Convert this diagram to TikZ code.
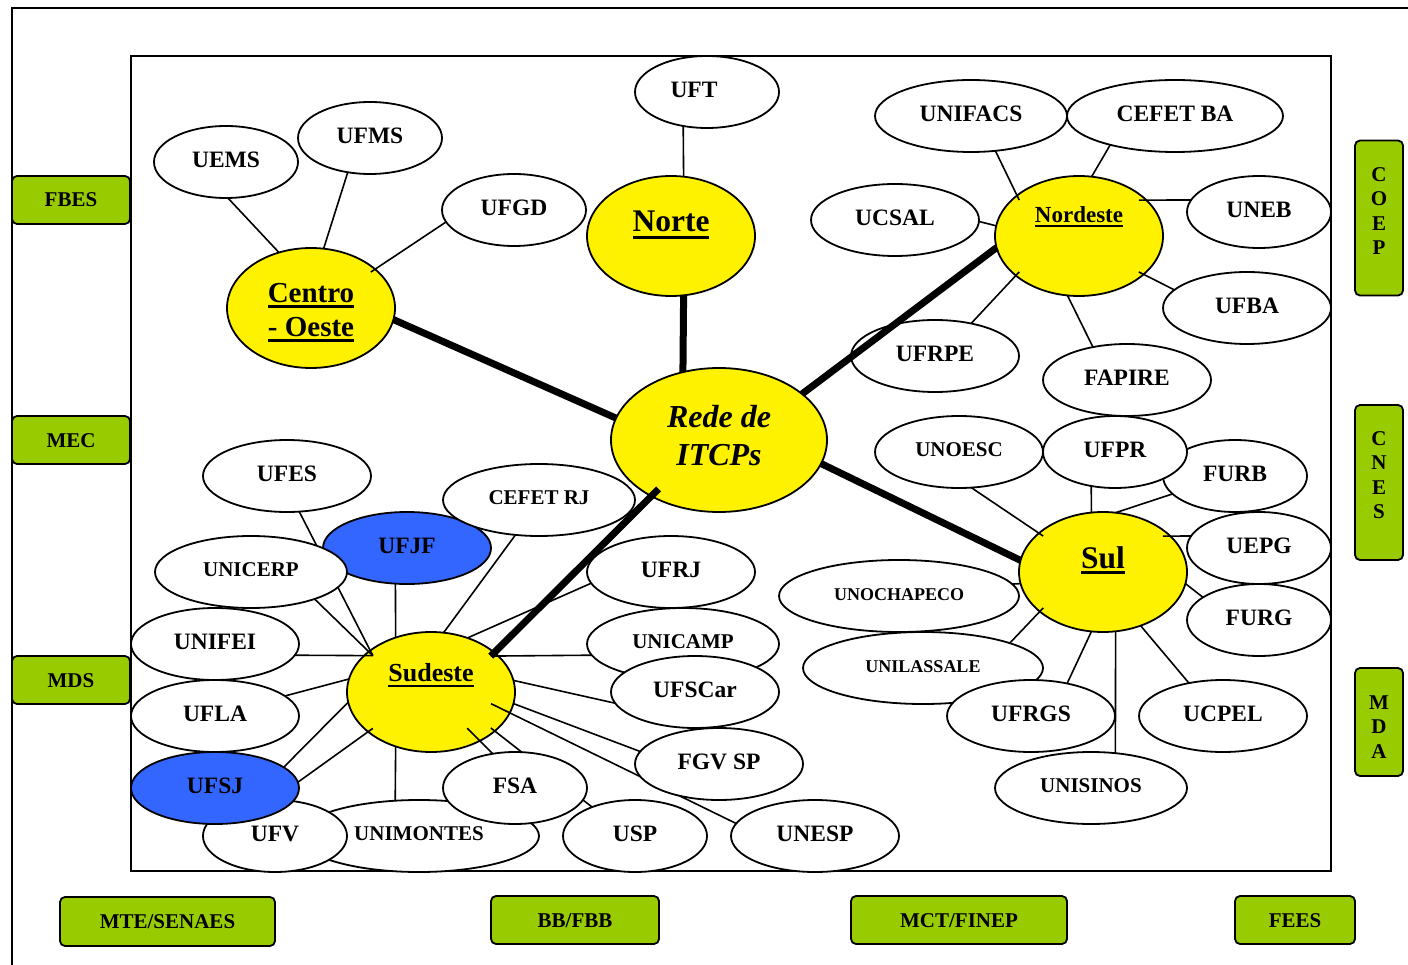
\documentclass[tikz,border=0pt]{standalone}
\usepackage{fontspec}
\setmainfont{Liberation Serif}
\usetikzlibrary{shapes.geometric,calc}
\pgfdeclarelayer{bgA}
\pgfdeclarelayer{bgB}
\pgfsetlayers{bgA,bgB,main}
\definecolor{gr}{HTML}{99CC00}
\definecolor{bl}{HTML}{3366FF}
\newcommand{\ulx}[3]{\setbox0=\hbox{#3}\rlap{\copy0}\rule[-#1]{\wd0}{#2}}
\tikzset{
 ell/.style={ellipse, draw, line width=1.8pt, fill=white, inner sep=0pt, outer sep=0pt,
   font=\bfseries\fontsize{23.5}{28}\selectfont, text height=15.5pt, text depth=5pt},
 ellb/.style={ell, font=\bfseries\fontsize{21}{25}\selectfont, text height=14pt, text depth=4.5pt},
 ellc/.style={ell, font=\bfseries\fontsize{18}{22}\selectfont, text height=12pt, text depth=4pt},
 blue/.style={fill=bl},
 region/.style={ellipse, draw, line width=1.8pt, fill=yellow, inner sep=0pt, outer sep=0pt,
   minimum width=168pt, minimum height=120pt},
 gbox/.style={rectangle, rounded corners=5pt, draw, line width=1.8pt, fill=gr, inner sep=0pt,
   font=\bfseries\fontsize{21}{24.5}\selectfont, text height=14pt, text depth=0pt},
 conn/.style={line width=1.6pt},
 heavy/.style={line width=7pt},
 frame/.style={line width=2pt},
}
\begin{document}
\begin{tikzpicture}[x=1pt,y=-1pt]
\useasboundingbox (0,0) rectangle (1408,965);
\begin{pgfonlayer}{bgA}
\draw[frame] (12,965) -- (12,8) -- (1408,8);
\draw[frame] (131,56) rectangle (1331,871);
\node[region, text height=22pt, text depth=0pt, font=\bfseries\fontsize{29}{34}\selectfont] (CO) at (311,308)
  {\begin{tabular}{@{}c@{}}\ulx{5pt}{2.5pt}{Centro}\\\ulx{5pt}{2.5pt}{- Oeste}\end{tabular}};
\node[region, text height=0pt, text depth=8.6pt, font=\bfseries\fontsize{31.5}{38}\selectfont] (Norte) at (671,236) {\ulx{7pt}{3pt}{Norte}};
\node[region, minimum width=216pt, minimum height=144pt, text height=40pt, text depth=30pt, font=\bfseries\itshape\fontsize{32}{38}\selectfont] (Rede) at (719,440)
  {\begin{tabular}{@{}c@{}}Rede de\\ITCPs\end{tabular}};
\node[region, text height=0pt, text depth=26.6pt, font=\bfseries\fontsize{23}{28}\selectfont] (NE) at (1079,236) {\ulx{4.5pt}{2pt}{Nordeste}};
\node[region, text height=0pt, text depth=8pt, font=\bfseries\fontsize{31.5}{38}\selectfont] (Sul) at (1103,572) {\ulx{6pt}{3pt}{Sul}};
\node[region, text height=0pt, text depth=20.6pt, font=\bfseries\fontsize{26}{31}\selectfont] (Sud) at (431,692) {\ulx{5.5pt}{2.5pt}{Sudeste}};
\end{pgfonlayer}

% Centro-Oeste / Norte
\node[ell, minimum width=144pt, minimum height=72pt] (UEMS) at (226,162) {UEMS};
\node[ell, minimum width=144pt, minimum height=72pt] (UFMS) at (370,138) {UFMS};
\node[ell, minimum width=144pt, minimum height=72pt] (UFGD) at (514,210) {UFGD};
\node[ell, minimum width=144pt, minimum height=72pt] (UFT) at (707,92) {UFT\hspace*{26pt}};
% Nordeste
\node[ell, minimum width=192pt, minimum height=72pt] (UNIFACS) at (971,116) {UNIFACS};
\node[ell, minimum width=216pt, minimum height=72pt] (CEFETBA) at (1175,116) {CEFET BA};
\node[ell, minimum width=168pt, minimum height=72pt] (UCSAL) at (895,220) {UCSAL};
\node[ell, minimum width=144pt, minimum height=72pt] (UNEB) at (1259,212) {UNEB};
\node[ell, minimum width=168pt, minimum height=72pt] (UFBA) at (1247,308) {UFBA};
\node[ell, minimum width=168pt, minimum height=72pt] (UFRPE) at (935,356) {UFRPE};
\node[ell, minimum width=168pt, minimum height=72pt] (FAPIRE) at (1127,380) {FAPIRE};
% Sul
\node[ellb, minimum width=168pt, minimum height=72pt] (UNOESC) at (959,452) {UNOESC};
\node[ell, minimum width=144pt, minimum height=72pt] (FURB) at (1235,476) {FURB};
\node[ell, minimum width=144pt, minimum height=72pt] (UFPR) at (1115,452) {UFPR};
\node[ell, minimum width=144pt, minimum height=72pt] (UEPG) at (1259,548) {UEPG};
\node[ell, minimum width=144pt, minimum height=72pt] (FURG) at (1259,620) {FURG};
\node[ellc, minimum width=240pt, minimum height=72pt] (UNOCHAPECO) at (899,596) {UNOCHAPECO};
\node[ellc, minimum width=240pt, minimum height=72pt] (UNILASSALE) at (923,668) {UNILASSALE};
\node[ell, minimum width=168pt, minimum height=72pt] (UFRGS) at (1031,716) {UFRGS};
\node[ell, minimum width=168pt, minimum height=72pt] (UCPEL) at (1223,716) {UCPEL};
\node[ellb, minimum width=192pt, minimum height=72pt] (UNISINOS) at (1091,788) {UNISINOS};
% Sudeste
\node[ell, minimum width=168pt, minimum height=72pt] (UFES) at (287,476) {UFES};
\node[ell, blue, minimum width=168pt, minimum height=72pt] (UFJF) at (407,548) {UFJF};
\node[ellb, minimum width=192pt, minimum height=72pt] (UNICERP) at (251,572) {UNICERP};
\node[ellb, minimum width=192pt, minimum height=72pt] (CEFETRJ) at (539,500) {CEFET RJ};
\node[ell, minimum width=168pt, minimum height=72pt] (UFRJ) at (671,572) {UFRJ};
\node[ell, minimum width=168pt, minimum height=72pt] (UNIFEI) at (215,644) {UNIFEI};
\node[ellb, minimum width=192pt, minimum height=72pt] (UNICAMP) at (683,644) {UNICAMP};
\node[ell, minimum width=168pt, minimum height=72pt] (UFSCar) at (695,692) {UFSCar};
\node[ell, minimum width=168pt, minimum height=72pt] (UFLA) at (215,716) {UFLA};
\node[ell, minimum width=168pt, minimum height=72pt] (FGVSP) at (719,764) {FGV SP};
\node[ellb, minimum width=240pt, minimum height=72pt] (UNIMONTES) at (419,836) {UNIMONTES};
\node[ell, minimum width=144pt, minimum height=72pt] (UFV) at (275,836) {UFV};
\node[ell, blue, minimum width=168pt, minimum height=72pt] (UFSJ) at (215,788) {UFSJ};
\node[ell, minimum width=144pt, minimum height=72pt] (USP) at (635,836) {USP};
\node[ell, minimum width=144pt, minimum height=72pt] (FSA) at (515,788) {FSA};
\node[ell, minimum width=168pt, minimum height=72pt] (UNESP) at (815,836) {UNESP};

% green boxes
\node[gbox, minimum width=118pt, minimum height=48pt] (FBES) at (71,200) {FBES};
\node[gbox, minimum width=118pt, minimum height=48pt] (MEC) at (71,440) {MEC};
\node[gbox, minimum width=118pt, minimum height=48pt] (MDS) at (71,680) {MDS};
\node[gbox, minimum width=215pt, minimum height=49pt] (MTE) at (167.5,921.5) {MTE/SENAES};
\node[gbox, minimum width=168pt, minimum height=48pt] (BB) at (575,920) {BB/FBB};
\node[gbox, minimum width=216pt, minimum height=48pt] (MCT) at (959,920) {MCT/FINEP};
\node[gbox, minimum width=120pt, minimum height=48pt] (FEES) at (1295,920) {FEES};
\node[gbox, minimum width=48pt, minimum height=155pt, text height=0pt, text depth=73pt] (COEP) at (1379,218)
  {\begin{tabular}[t]{@{}c@{}}C\\O\\E\\P\end{tabular}};
\node[gbox, minimum width=48pt, minimum height=155pt, text height=0pt, text depth=75pt] (CNES) at (1379,482.5)
  {\begin{tabular}[t]{@{}c@{}}C\\N\\E\\S\end{tabular}};
\node[gbox, minimum width=48pt, minimum height=108pt, text height=0pt, text depth=26pt] (MDA) at (1379,722)
  {\begin{tabular}[t]{@{}c@{}}M\\D\\A\end{tabular}};

\begin{pgfonlayer}{bgB}
\draw[conn] (UEMS.-87) -- (CO.120);
\draw[conn] (UFMS.-123) -- (CO.78);
\draw[conn] (UFGD.190) -- ($(CO.center)!.93!(CO.31)$);
\draw[conn] (UFT.-125) -- (Norte.78.5);
\draw[conn] (UNIFACS.-55.6) -- ($(NE.center)!.93!(NE.149)$);
\draw[conn] (CEFETBA.204) -- (NE.78.5);
\draw[conn] (UCSAL.-1.4) -- (NE.173);
\draw[conn] (UNEB.170) -- ($(NE.center)!.93!(NE.31)$);
\draw[conn] (UFBA.166) -- ($(NE.center)!.93!(NE.-31)$);
\draw[conn] (FAPIRE.136.7) -- (NE.-101.3);
\draw[conn] (UFRPE.42) -- ($(NE.center)!.93!(NE.-149)$);
\draw[conn] (UNOESC.-71.4) -- ($(Sul.center)!.93!(Sul.149)$);
\draw[conn] (UFPR.-125.2) -- (Sul.101.4);
\draw[conn] (FURB.196.7) -- (Sul.78.7);
\draw[conn] (UEPG.170) -- ($(Sul.center)!.93!(Sul.31)$);
\draw[conn] (FURG.158.9) -- (Sul.-8.3);
\draw[conn] (UNOCHAPECO.6.1) -- (Sul.188.3);
\draw[conn] (UNILASSALE.16.6) -- ($(Sul.center)!.93!(Sul.-149)$);
\draw[conn] (UFRGS.42) -- (Sul.-101.4);
\draw[conn] (UNISINOS.55.5) -- (Sul.-78.6);
\draw[conn] (UCPEL.136.7) -- (Sul.-55.6);
\draw[conn] (UFES.-71.4) -- ($(Sud.center)!.92!(Sud.148.6)$);
\draw[conn] (UNICERP.-23.6) -- ($(Sud.center)!.92!(Sud.148.6)$);
\draw[conn] (UNIFEI.-8.6) -- ($(Sud.center)!.92!(Sud.148.6)$);
\draw[conn] (UFJF.-108.6) -- (Sud.123.6);
\draw[conn] (CEFETRJ.-124.4) -- (Sud.78.7);
\draw[conn] (UFRJ.188.2) -- (Sud.56.3);
\draw[conn] (UNICAMP.187.6) -- ($(Sud.center)!.93!(Sud.31)$);
\draw[conn] (UFLA.16.3) -- (Sud.171.1);
\draw[conn] (UFSCar.188.1) -- (Sud.8.1);
\draw[conn] (FGVSP.171.9) -- (Sud.-8.8);
\draw[conn] (UNESP.171.1) -- ($(Sud.center)!.74!(Sud.-11.3)$);
\draw[conn] (FSA.123.3) -- ($(Sud.center)!.74!(Sud.-45)$);
\draw[conn] (USP.146.3) -- ($(Sud.center)!.93!(Sud.-31)$);
\draw[conn] (UFSJ.4.1) -- ($(Sud.center)!.92!(Sud.-148.6)$);
\draw[conn] (UFV.128.5) -- (Sud.187.5);
\draw[conn] (UNIMONTES.124.2) -- (Sud.-123.6);
\end{pgfonlayer}

\draw[heavy] (CO.-8) -- (Rede.168);
\draw[heavy] (Norte.-78.5) -- (Rede.118);
\draw[heavy] (NE.188) -- (Rede.29.7);
\draw[heavy] (Rede.-13) -- (Sul.172);
\draw[heavy] ($(Rede.center)!.88!(Rede.-141)$) -- ($(Sud.center)!.93!(Sud.31)$);
\end{tikzpicture}
\end{document}
